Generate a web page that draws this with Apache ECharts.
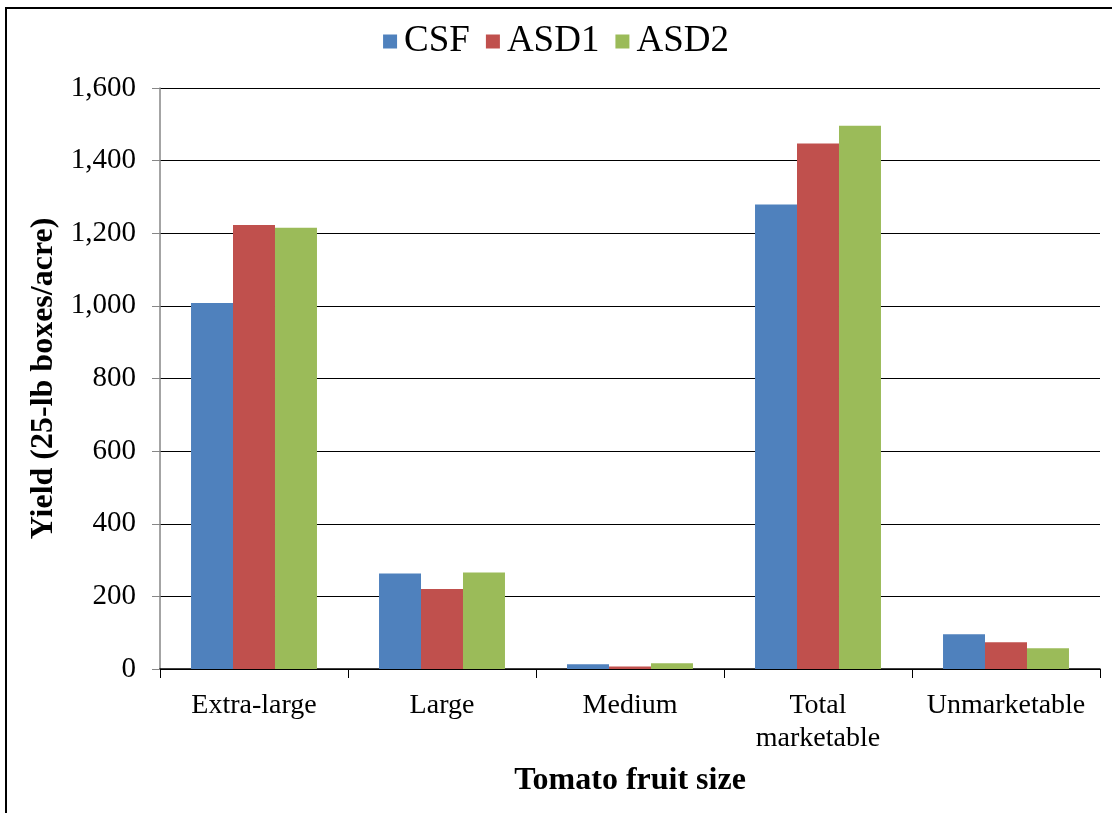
<!DOCTYPE html>
<html lang="en" style="height: 100%">
<head>
    <meta charset="utf-8">
</head>
<body style="height: 100%; margin: 0; background: #fff">
    <div id="container" style="width: 1112px; height: 813px"></div>
    <div id="frame"></div>

    <script type="text/javascript" src="https://cdn.jsdelivr.net/npm/echarts@6/dist/echarts.min.js"></script>
    <script type="text/javascript">
        var categories = ['Extra-large', 'Large', 'Medium', 'Total\nmarketable', 'Unmarketable'];
        var csf = [1008, 263, 13, 1279, 96];
        var asd1 = [1223, 220, 7, 1447, 74];
        var asd2 = [1215, 266, 16, 1496, 57];
        var seriesNames = ['CSF', 'ASD1', 'ASD2'];
        var colors = ['#4f81bd', '#c0504d', '#9bbb59'];

        var font = '"Liberation Serif", "Times New Roman", serif';

        var dom = document.getElementById('container');
        var myChart = echarts.init(dom, null, { renderer: 'canvas' });

        var option = {
            animation: false,
            color: colors,
            textStyle: { fontFamily: font, color: '#000' },
            legend: {
                top: 18,
                left: 'center',
                itemWidth: 14,
                itemHeight: 14,
                itemGap: 16,
                icon: 'rect',
                textStyle: { fontFamily: font, fontSize: 37, color: '#000', padding: [0, 0, 0, 2] },
                data: seriesNames
            },
            grid: {
                left: 160,
                right: 12,
                top: 88,
                bottom: 144,
                containLabel: false
            },
            xAxis: {
                type: 'category',
                data: categories,
                name: 'Tomato fruit size',
                nameLocation: 'middle',
                nameGap: 96,
                nameTextStyle: { fontFamily: font, fontSize: 32, fontWeight: 'bold', color: '#000' },
                axisLine: { lineStyle: { color: '#000', width: 1.5 } },
                axisTick: { show: true, interval: 0, length: 9, lineStyle: { color: '#000' } },
                axisLabel: { interval: 0, fontFamily: font, fontSize: 28, color: '#000', margin: 20, lineHeight: 33 }
            },
            yAxis: {
                type: 'value',
                min: 0,
                max: 1600,
                interval: 200,
                name: 'Yield (25-lb boxes/acre)',
                nameLocation: 'middle',
                nameGap: 95,
                nameTextStyle: { fontFamily: font, fontSize: 32, fontWeight: 'bold', color: '#000' },
                axisLine: { show: true, lineStyle: { color: '#868686', width: 1.5 } },
                axisTick: { show: true, length: 8, lineStyle: { color: '#868686' } },
                axisLabel: {
                    fontFamily: font, fontSize: 29, color: '#000', margin: 24,
                    formatter: function (v) { return v.toLocaleString('en-US'); }
                },
                splitLine: { lineStyle: { color: '#000', width: 1.2 } }
            },
            series: [
                { name: 'CSF', type: 'bar', data: csf, barGap: '0%', barCategoryGap: '33%' },
                { name: 'ASD1', type: 'bar', data: asd1, barGap: '0%', barCategoryGap: '33%' },
                { name: 'ASD2', type: 'bar', data: asd2, barGap: '0%', barCategoryGap: '33%' }
            ]
        };

        myChart.setOption(option);
        window.addEventListener('resize', myChart.resize);
    </script>

    <style>
        #frame {
            position: absolute;
            left: 5px;
            top: 7px;
            width: 1120px;
            height: 820px;
            border-left: 2px solid #000;
            border-top: 2px solid #000;
            pointer-events: none;
        }
    </style>
</body>
</html>
